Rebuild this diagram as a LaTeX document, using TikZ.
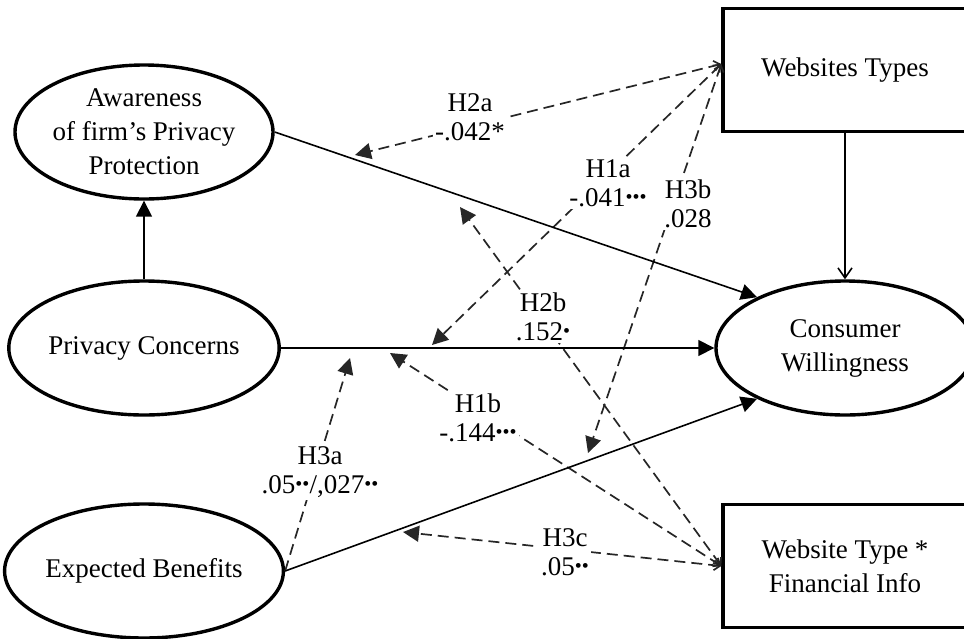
\documentclass[tikz,border=0pt]{standalone}
\usepackage{fontspec}
\setmainfont{Liberation Serif}
\usetikzlibrary{positioning,shapes.geometric,arrows.meta}
\newcommand{\sgdot}{\raisebox{0.25ex}{\fontsize{10}{10}\selectfont •}}

\begin{document}
\begin{tikzpicture}[x=0.5pt,y=0.5pt,yscale=-1,xscale=1,
  latent/.style={ellipse,draw,line width=1.7pt,minimum width=129pt,minimum height=67pt,inner sep=0pt,align=center,font=\fontsize{13.5}{17}\selectfont},
  observed/.style={rectangle,draw,line width=1.7pt,minimum width=122pt,minimum height=61.5pt,align=center,font=\fontsize{13.5}{17}\selectfont},
  effect/.style={line width=0.8pt,-{Triangle[length=8pt,width=8pt]}},
  moderate/.style={line width=0.85pt,draw=black!85,dash pattern=on 5.5pt off 3pt,{Straight Barb[length=3pt,width=5pt]}-{Triangle[length=8pt,width=8pt]}},
  tipend/.style={-{Triangle[length=8pt,width=8pt]}},
  coef/.style={fill=white,inner sep=1pt,align=center,font=\fontsize{13.5}{14.5}\selectfont}]

\useasboundingbox (0,0) rectangle (964,638);

% Constructs
\node [latent,inner xsep=-2pt] (aware) at (144,132) {Awareness\\of firm’s Privacy\\Protection};
\node [latent] (priv) at (144,348) {Privacy Concerns};
\node [latent] (exp) at (144,571) {Expected Benefits};
\node [latent] (cons) at (845,348) {Consumer\\Willingness};
\node [observed] (web) at (845,70) {Websites Types};
\node [observed] (fin) at (845,566) {Website Type *\\Financial Info};

% Moderating arrows end on the paths
\coordinate (webout) at ([yshift=-3pt]web.west);
\coordinate (tH2a) at (355,155);
\coordinate (tH1a) at (432,345);
\coordinate (tH3b) at (588,453);
\coordinate (tH2b) at (460,207);
\coordinate (tH1b) at (390,353);
\coordinate (tH3a) at (350,358);
\coordinate (tH3c) at (403,532);

\draw [moderate] (webout) -- (tH2a);
\draw [moderate] (webout) -- (tH1a);
\draw [moderate] (webout) -- (tH3b);
\draw [moderate] (fin.west) -- (tH2b);
\draw [moderate] (fin.west) -- (tH1b);
\draw [moderate] (fin.west) -- (tH3c);
\draw [moderate,tipend] (exp.east) -- (tH3a);

% Text Node
\node [coef] (lH2a) at (470,117) {H2a\\-.042*};
\node [coef] (lH1a) at (608,183) {H1a\\-.041\sgdot\sgdot\sgdot};
\node [coef] (lH3b) at (688,204) {H3b\\.028};
\node [coef] (lH2b) at (543,317) {H2b\\.152\sgdot};
\node [coef] (lH1b) at (478,418) {H1b\\-.144\sgdot\sgdot\sgdot};
\node [coef] (lH3a) at (320,472) {H3a\\.05\sgdot\sgdot/,027\sgdot\sgdot};
\node [coef] (lH3c) at (565,552) {H3c\\.05\sgdot\sgdot};

% Direct paths
\draw [effect] (priv) -- (aware);
\draw [effect] (aware.east) -- (cons.150);
\draw [effect] (priv) -- (cons);
\draw [effect] (exp.east) -- (cons.210);
\draw [line width=0.8pt,-{Straight Barb[length=5pt,width=7pt]}] (web) -- (cons);

\end{tikzpicture}
\end{document}
